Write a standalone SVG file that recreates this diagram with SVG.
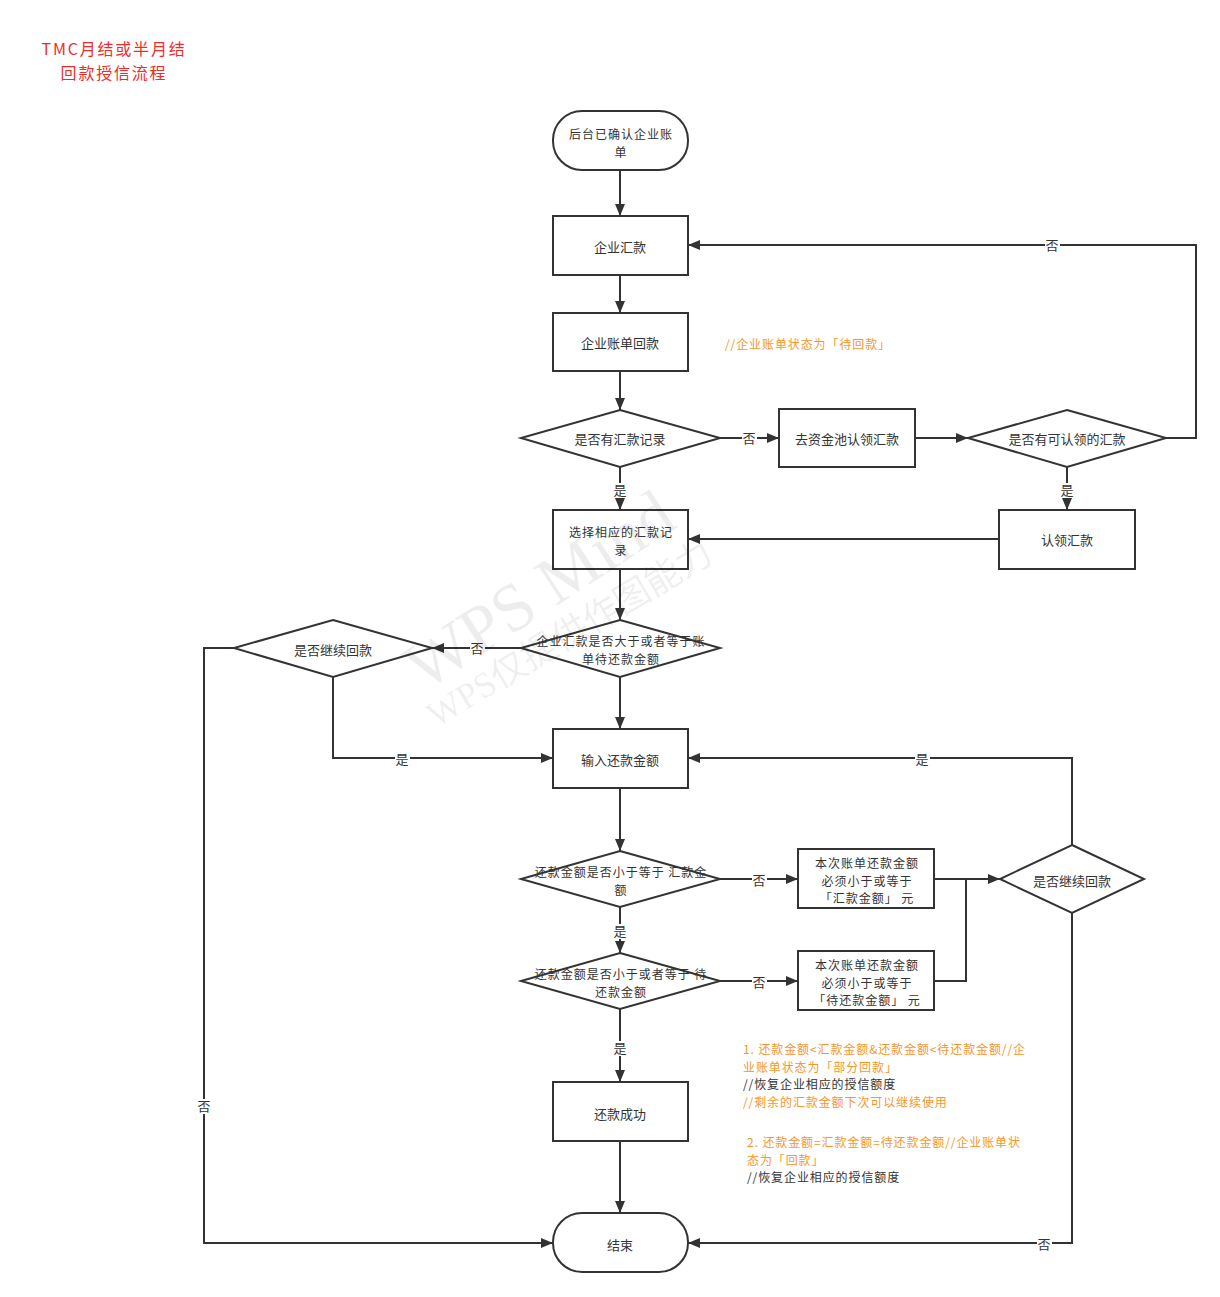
<svg xmlns="http://www.w3.org/2000/svg" width="1220" height="1297" viewBox="0 0 1220 1297">
  <defs>
    <marker id="arrow" viewBox="0 0 12 10" refX="12" refY="5" markerWidth="12" markerHeight="10" markerUnits="userSpaceOnUse" orient="auto">
      <path d="M0,0 L12,5 L0,10 Z" fill="#333333"/>
    </marker>
    <style>
      .shape { fill: #ffffff; stroke: #333333; stroke-width: 2; }
      .edge { fill: none; stroke: #333333; stroke-width: 2; }
      .t { font-family: "Noto Sans CJK SC", "Noto Sans", sans-serif; font-size: 13px; fill: #333333; text-anchor: middle; }
      .t2 { font-family: "Noto Sans CJK SC", "Noto Sans", sans-serif; font-size: 12px; letter-spacing: 1px; fill: #333333; text-anchor: middle; }
      .lbl { font-family: "Noto Sans CJK SC", "Noto Sans", sans-serif; font-size: 13px; fill: #333333; text-anchor: middle; }
      .lblbg { fill: #ffffff; }
      .note { font-family: "Noto Sans CJK SC", "Noto Sans", sans-serif; font-size: 12px; letter-spacing: 0.9px; }
      .orange { fill: #f7962f; }
      .dark { fill: #333333; }
      .title { font-family: "Noto Sans CJK SC", "Noto Sans", sans-serif; font-size: 16px; letter-spacing: 1.8px; fill: #ee2b2b; text-anchor: middle; }
      .wm { font-family: "Liberation Serif", "Noto Sans CJK SC", serif; fill: #000000; fill-opacity: 0.07; }
    </style>
  </defs>

  <rect width="1220" height="1297" fill="#ffffff"/>

  <!-- heading -->
  <g id="title">
    <text class="title" x="114" y="55">TMC月结或半月结<tspan x="114" dy="23.5">回款授信流程</tspan></text>
  </g>

  <!-- connectors -->
  <g id="connectors">
    <path class="edge" d="M620,170 V216" marker-end="url(#arrow)"/>
    <path class="edge" d="M620,275 V313" marker-end="url(#arrow)"/>
    <path class="edge" d="M620,371 V410" marker-end="url(#arrow)"/>
    <path class="edge" d="M720,438 H779" marker-end="url(#arrow)"/>
    <path class="edge" d="M915,438 H968" marker-end="url(#arrow)"/>
    <path class="edge" d="M1166,438 H1196 V245 H688" marker-end="url(#arrow)"/>
    <path class="edge" d="M1067,467 V510" marker-end="url(#arrow)"/>
    <path class="edge" d="M999,539 H688" marker-end="url(#arrow)"/>
    <path class="edge" d="M620,467 V510" marker-end="url(#arrow)"/>
    <path class="edge" d="M620,569 V620" marker-end="url(#arrow)"/>
    <path class="edge" d="M521,648 H432" marker-end="url(#arrow)"/>
    <path class="edge" d="M234,648 H204 V1243 H553" marker-end="url(#arrow)"/>
    <path class="edge" d="M333,677 V758 H553" marker-end="url(#arrow)"/>
    <path class="edge" d="M620,677 V729" marker-end="url(#arrow)"/>
    <path class="edge" d="M620,788 V851" marker-end="url(#arrow)"/>
    <path class="edge" d="M720,879 H798" marker-end="url(#arrow)"/>
    <path class="edge" d="M934,879 H1000" marker-end="url(#arrow)"/>
    <path class="edge" d="M934,981 H966 V879"/>
    <path class="edge" d="M620,907 V953" marker-end="url(#arrow)"/>
    <path class="edge" d="M720,981 H798" marker-end="url(#arrow)"/>
    <path class="edge" d="M1072,845 V758 H688" marker-end="url(#arrow)"/>
    <path class="edge" d="M1072,913 V1243 H688" marker-end="url(#arrow)"/>
    <path class="edge" d="M620,1009 V1082" marker-end="url(#arrow)"/>
    <path class="edge" d="M620,1141 V1213" marker-end="url(#arrow)"/>

    <!-- branch labels -->
    <g>
      <rect class="lblbg" x="742" y="431" width="15" height="15"/>
      <text class="lbl" x="749" y="443">否</text>
      <rect class="lblbg" x="1045" y="238" width="15" height="15"/>
      <text class="lbl" x="1052" y="250">否</text>
      <rect class="lblbg" x="1060" y="483" width="15" height="15"/>
      <text class="lbl" x="1067" y="495">是</text>
      <rect class="lblbg" x="613" y="483" width="15" height="15"/>
      <text class="lbl" x="620" y="495">是</text>
      <rect class="lblbg" x="470" y="641" width="15" height="15"/>
      <text class="lbl" x="477" y="653">否</text>
      <rect class="lblbg" x="197" y="1099" width="15" height="15"/>
      <text class="lbl" x="204" y="1111">否</text>
      <rect class="lblbg" x="395" y="752" width="15" height="15"/>
      <text class="lbl" x="402" y="764">是</text>
      <rect class="lblbg" x="752" y="873" width="15" height="15"/>
      <text class="lbl" x="759" y="885">否</text>
      <rect class="lblbg" x="613" y="924" width="15" height="15"/>
      <text class="lbl" x="620" y="936">是</text>
      <rect class="lblbg" x="752" y="975" width="15" height="15"/>
      <text class="lbl" x="759" y="987">否</text>
      <rect class="lblbg" x="915" y="752" width="15" height="15"/>
      <text class="lbl" x="922" y="764">是</text>
      <rect class="lblbg" x="1037" y="1237" width="15" height="15"/>
      <text class="lbl" x="1044" y="1249">否</text>
      <rect class="lblbg" x="613" y="1041" width="15" height="15"/>
      <text class="lbl" x="620" y="1053">是</text>
    </g>
  </g>

  <!-- nodes -->
  <g id="start">
    <rect class="shape" x="553" y="111" width="135" height="59" rx="29" ry="29"/>
    <text class="t2" x="621" y="139">后台已确认企业账<tspan x="621" dy="17.5">单</tspan></text>
  </g>
  <g id="remit">
    <rect class="shape" x="553" y="216" width="135" height="59"/>
    <text class="t" x="620" y="252">企业汇款</text>
  </g>
  <g id="billRepay">
    <rect class="shape" x="553" y="313" width="135" height="58"/>
    <text class="t" x="620" y="348">企业账单回款</text>
  </g>
  <g id="hasRecord">
    <polygon class="shape" points="620,410 720,438 620,467 521,438"/>
    <text class="t" x="620" y="444">是否有汇款记录</text>
  </g>
  <g id="pool">
    <rect class="shape" x="779" y="409" width="136" height="58"/>
    <text class="t" x="847" y="444">去资金池认领汇款</text>
  </g>
  <g id="hasClaimable">
    <polygon class="shape" points="1067,410 1166,438 1067,467 968,438"/>
    <text class="t" x="1067" y="444">是否有可认领的汇款</text>
  </g>
  <g id="claim">
    <rect class="shape" x="999" y="510" width="136" height="59"/>
    <text class="t" x="1067" y="545">认领汇款</text>
  </g>
  <g id="select">
    <rect class="shape" x="553" y="510" width="135" height="59"/>
    <text class="t2" x="621" y="537">选择相应的汇款记<tspan x="621" dy="17.5">录</tspan></text>
  </g>
  <g id="enough">
    <polygon class="shape" points="620,620 720,648 620,677 521,648"/>
    <text class="t2" x="621" y="646">企业汇款是否大于或者等于账<tspan x="621" dy="17.5">单待还款金额</tspan></text>
  </g>
  <g id="continueLeft">
    <polygon class="shape" points="333,620 432,648 333,677 234,648"/>
    <text class="t" x="333" y="655">是否继续回款</text>
  </g>
  <g id="inputAmount">
    <rect class="shape" x="553" y="729" width="135" height="59"/>
    <text class="t" x="620" y="765">输入还款金额</text>
  </g>
  <g id="checkRemit">
    <polygon class="shape" points="620,851 720,879 620,907 521,879"/>
    <text class="t2" x="621" y="877">还款金额是否小于等于 汇款金<tspan x="621" dy="17.5">额</tspan></text>
  </g>
  <g id="limitRemit">
    <rect class="shape" x="798" y="849" width="136" height="59"/>
    <text class="t2" x="867" y="868">本次账单还款金额<tspan x="867" dy="17.5">必须小于或等于</tspan><tspan x="867" dy="17.5">「汇款金额」 元</tspan></text>
  </g>
  <g id="checkDue">
    <polygon class="shape" points="620,953 720,981 620,1009 521,981"/>
    <text class="t2" x="621" y="979">还款金额是否小于或者等于 待<tspan x="621" dy="17.5">还款金额</tspan></text>
  </g>
  <g id="limitDue">
    <rect class="shape" x="798" y="951" width="136" height="59"/>
    <text class="t2" x="867" y="970">本次账单还款金额<tspan x="867" dy="17.5">必须小于或等于</tspan><tspan x="867" dy="17.5">「待还款金额」 元</tspan></text>
  </g>
  <g id="continueRight">
    <polygon class="shape" points="1072,845 1144,879 1072,913 1000,879"/>
    <text class="t" x="1072" y="886">是否继续回款</text>
  </g>
  <g id="success">
    <rect class="shape" x="553" y="1082" width="135" height="59"/>
    <text class="t" x="620" y="1119">还款成功</text>
  </g>
  <g id="end">
    <rect class="shape" x="553" y="1213" width="135" height="59" rx="29" ry="29"/>
    <text class="t" x="620" y="1250">结束</text>
  </g>

  <!-- side notes -->
  <g id="notes">
    <text class="note orange" x="725" y="349">//企业账单状态为「待回款」</text>
    <text class="note orange" x="743" y="1054">1. 还款金额&lt;汇款金额&amp;还款金额&lt;待还款金额//企<tspan x="743" dy="17.5">业账单状态为「部分回款」</tspan><tspan x="743" dy="17.5" class="dark">//恢复企业相应的授信额度</tspan><tspan x="743" dy="17.5">//剩余的汇款金额下次可以继续使用</tspan></text>
    <text class="note orange" x="747" y="1147">2. 还款金额=汇款金额=待还款金额//企业账单状<tspan x="747" dy="17.5">态为「回款」</tspan><tspan x="747" dy="17.5" class="dark">//恢复企业相应的授信额度</tspan></text>
  </g>

  <!-- faint watermark -->
  <g id="watermark">
    <text class="wm" font-size="68" transform="translate(424,692) rotate(-33)">WPS Mind</text>
    <text class="wm" font-size="36" transform="translate(436,728) rotate(-31)">WPS仅提供作图能力</text>
  </g>
</svg>
